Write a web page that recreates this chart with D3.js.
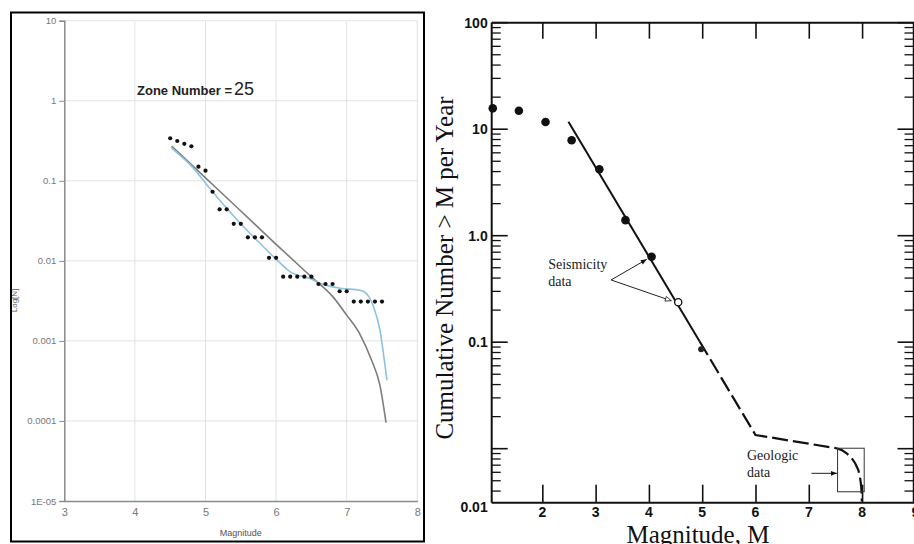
<!doctype html>
<html lang="en">
  <head>
    <meta charset="utf-8">
    <title>Magnitude recurrence</title>
    <style>
      body { margin: 0; background: #fff; }
      svg { display: block; }
    </style>
  </head>
  <body>
    <script src="https://d3js.org/d3.v7.min.js"></script>
    <script>
      // ---- left panel: zone 25 ----
      var zoneMags = [4.5, 4.6, 4.7, 4.8, 4.9, 5.0, 5.1, 5.2, 5.3, 5.4, 5.5, 5.6, 5.7, 5.8, 5.9, 6.0,
                      6.1, 6.2, 6.3, 6.4, 6.5, 6.6, 6.7, 6.8, 6.9, 7.0, 7.1, 7.2, 7.3, 7.4, 7.5];
      var zoneCounts = [0.34, 0.314, 0.29, 0.27, 0.15, 0.134, 0.073, 0.044, 0.044, 0.029, 0.029,
                        0.0197, 0.0197, 0.0197, 0.0109, 0.0109,
                        0.00634, 0.00634, 0.00634, 0.00634, 0.00634, 0.00514, 0.00514, 0.00514,
                        0.00417, 0.00417, 0.0031, 0.0031, 0.0031, 0.0031, 0.0031];

      // gray fitted curve
      var fitMags = [4.52, 5.0, 5.5, 6.0, 6.5, 6.8, 7.0, 7.19, 7.35, 7.47, 7.557];
      var fitVals = [0.272, 0.109, 0.042, 0.0161, 0.0063, 0.0036, 0.0021, 0.0012, 0.00058, 0.00028, 0.0000955];

      // blue smoothed curve
      var smoothMags = [4.51, 4.83, 5.06, 5.30, 5.56, 5.77, 6.01, 6.20, 6.48, 6.62, 6.91, 7.19, 7.28, 7.38, 7.47, 7.52, 7.57];
      var smoothVals = [0.259, 0.143, 0.0805, 0.0453, 0.0255, 0.0166, 0.0103, 0.0073, 0.0060, 0.00525, 0.00454,
                        0.0043, 0.0039, 0.00267, 0.00137, 0.0007, 0.000324];

      var leftXTicks = [3, 4, 5, 6, 7, 8];
      var leftYTicks = [10, 1, 0.1, 0.01, 0.001, 0.0001, 0.00001];
      var leftYLabels = ['10', '1', '0.1', '0.01', '0.001', '0.0001', '1E-05'];

      // ---- right panel: seismicity vs geologic ----
      var obsMags = [1.07, 1.56, 2.06, 2.55, 3.07, 3.56, 4.05];
      var obsRates = [15.7, 14.9, 11.7, 7.87, 4.2, 1.40, 0.635];
      var openMags = [4.55];
      var openRates = [0.237];
      var smallMags = [4.98];
      var smallRates = [0.0858];

      var solidMags = [2.49, 4.95];
      var solidRates = [11.75, 0.102];
      var dashMags = [4.95, 6.0, 7.52, 7.62, 7.71, 7.80, 7.87, 7.93, 7.96, 7.98, 7.99, 7.995];
      var dashRates = [0.102, 0.01345, 0.01009, 0.0097, 0.00906, 0.0082, 0.0073, 0.0063, 0.00546, 0.0046, 0.00394, 0.0032];

      var rightXTicks = [2, 3, 4, 5, 6, 7, 8];
      var rightXLabels = [2, 3, 4, 5, 6, 7, 8, 9];
      var rightYTicks = [100, 10, 1, 0.1];
      var rightYLabels = ['100', '10', '1.0', '0.1'];
      var rightBottomLabel = '0.01';

      var svg = d3.select('body').append('svg')
          .attr('width', 914)
          .attr('height', 544);

      // ================= LEFT =================
      var xL = d3.scaleLinear().domain([3, 8]).range([64.3, 417.3]);
      var yL = d3.scaleLog().domain([0.00001, 10]).range([501, 20.7]);

      svg.append('rect')
          .attr('x', 11).attr('y', 12.5)
          .attr('width', 413).attr('height', 529)
          .attr('fill', '#fff')
          .attr('stroke', '#000')
          .attr('stroke-width', 2);

      var left = svg.append('g');

      // grid
      left.selectAll('.vgrid')
          .data(leftXTicks.slice(1))
          .enter().append('line')
          .attr('x1', function(d) { return xL(d); })
          .attr('x2', function(d) { return xL(d); })
          .attr('y1', yL(10)).attr('y2', yL(0.00001))
          .attr('stroke', '#e2e2e2');
      left.selectAll('.hgrid')
          .data(leftYTicks.slice(0, -1))
          .enter().append('line')
          .attr('x1', xL(3)).attr('x2', xL(8))
          .attr('y1', function(d) { return yL(d); })
          .attr('y2', function(d) { return yL(d); })
          .attr('stroke', '#e2e2e2');

      var yAxisL = left.append('g')
          .attr('transform', 'translate(' + xL(3) + ',0)')
          .call(d3.axisLeft(yL).tickValues(leftYTicks)
            .tickFormat(function(d, i) { return leftYLabels[i]; })
            .tickSize(5).tickPadding(3));
      var xAxisL = left.append('g')
          .attr('transform', 'translate(0,' + yL(0.00001) + ')')
          .call(d3.axisBottom(xL).tickValues(leftXTicks).tickFormat(d3.format('d'))
            .tickSize(0).tickPadding(7));

      [yAxisL, xAxisL].forEach(function(ax) {
        ax.select('.domain').attr('stroke', '#8a8a8a').attr('stroke-width', 1.5);
        ax.selectAll('line').attr('stroke', '#8a8a8a');
        ax.selectAll('text').attr('fill', '#777').style('font-family', 'Liberation Sans, Arial, sans-serif');
      });
      yAxisL.selectAll('text').style('font-size', '9.5px');
      xAxisL.selectAll('text').style('font-size', '11px');

      var lineL = d3.line()
          .x(function(d) { return xL(d[0]); })
          .y(function(d) { return yL(d[1]); })
          .curve(d3.curveMonotoneX);

      left.append('path')
          .datum(fitMags.map(function(m, i) { return [m, fitVals[i]]; }))
          .attr('d', lineL)
          .attr('fill', 'none')
          .attr('stroke', '#7d7d7d')
          .attr('stroke-width', 1.6);

      left.append('path')
          .datum(smoothMags.map(function(m, i) { return [m, smoothVals[i]]; }))
          .attr('d', lineL)
          .attr('fill', 'none')
          .attr('stroke', '#8ec3e0')
          .attr('stroke-width', 1.6);

      left.selectAll('.zdot')
          .data(zoneMags)
          .enter().append('circle')
          .attr('r', 2.1)
          .attr('cx', function(d) { return xL(d); })
          .attr('cy', function(d, i) { return yL(zoneCounts[i]); })
          .attr('fill', '#111');

      var zt = left.append('text')
          .attr('x', xL(4.03))
          .attr('y', yL(1.18))
          .style('font-family', 'Liberation Sans, Arial, sans-serif')
          .attr('fill', '#222');
      zt.append('tspan').style('font-size', '13px').style('font-weight', 'bold').text('Zone Number =');
      zt.append('tspan').attr('dx', 2).style('font-size', '18px').text('25');

      left.append('text')
          .attr('transform', 'translate(17,' + yL(0.0032) + ') rotate(-90)')
          .attr('text-anchor', 'middle')
          .style('font-family', 'Liberation Sans, Arial, sans-serif')
          .style('font-size', '8px')
          .attr('fill', '#555')
          .text('Log[N]');

      left.append('text')
          .attr('x', xL(5.5))
          .attr('y', 536)
          .attr('text-anchor', 'middle')
          .style('font-family', 'Liberation Sans, Arial, sans-serif')
          .style('font-size', '9px')
          .attr('fill', '#555')
          .text('Magnitude');

      // ================= RIGHT =================
      var xR = d3.scaleLinear().domain([1.05, 8.95]).range([491.7, 912.7]);
      var yR = d3.scaleLog().domain([0.00311, 100]).range([502.7, 22.7]);

      var right = svg.append('g');
      var boldSans = 'Liberation Sans, Arial, Helvetica, sans-serif';
      var serif = 'Liberation Serif, Times New Roman, serif';

      var minorTicks = [];
      [0.001, 0.01, 0.1, 1, 10].forEach(function(dec) {
        for (var k = 2; k <= 9; k++) {
          var v = dec * k;
          if (v > yR.domain()[0] && v < 100) minorTicks.push(v);
        }
      });
      var majorTicks = [100, 10, 1, 0.1, 0.01];

      // axes frame lines
      right.append('line').attr('x1', xR.range()[0]).attr('x2', 914)
          .attr('y1', yR(100)).attr('y2', yR(100)).attr('stroke', '#111').attr('stroke-width', 2);
      right.append('line').attr('x1', xR.range()[0]).attr('x2', 914)
          .attr('y1', yR.range()[0]).attr('y2', yR.range()[0]).attr('stroke', '#111').attr('stroke-width', 2);
      right.append('line').attr('x1', xR.range()[0]).attr('x2', xR.range()[0])
          .attr('y1', yR(100)).attr('y2', yR.range()[0]).attr('stroke', '#111').attr('stroke-width', 2);
      right.append('line').attr('x1', 913.5).attr('x2', 913.5)
          .attr('y1', yR(100)).attr('y2', yR.range()[0]).attr('stroke', '#111').attr('stroke-width', 1.5);

      // left/right ticks
      [[xR.range()[0], 1], [913.5, -1]].forEach(function(side) {
        right.selectAll(null)
            .data(majorTicks)
            .enter().append('line')
            .attr('x1', side[0]).attr('x2', side[0] + side[1] * 16)
            .attr('y1', function(d) { return yR(d); })
            .attr('y2', function(d) { return yR(d); })
            .attr('stroke', '#111').attr('stroke-width', 1.6);
        right.selectAll(null)
            .data(minorTicks)
            .enter().append('line')
            .attr('x1', side[0]).attr('x2', side[0] + side[1] * 9)
            .attr('y1', function(d) { return yR(d); })
            .attr('y2', function(d) { return yR(d); })
            .attr('stroke', '#111').attr('stroke-width', 1.3);
      });

      // top and bottom magnitude ticks
      var topAx = right.append('g')
          .attr('transform', 'translate(0,' + yR(100) + ')')
          .call(d3.axisTop(xR).tickValues(rightXTicks).tickSizeInner(-16).tickSizeOuter(0).tickFormat(''));
      var botAx = right.append('g')
          .attr('transform', 'translate(0,' + yR.range()[0] + ')')
          .call(d3.axisBottom(xR).tickValues(rightXTicks).tickSizeInner(-18).tickSizeOuter(0).tickFormat(''));
      [topAx, botAx].forEach(function(ax) {
        ax.select('.domain').remove();
        ax.selectAll('line').attr('stroke', '#111').attr('stroke-width', 1.6);
      });

      right.selectAll('.xlab')
          .data(rightXLabels)
          .enter().append('text')
          .attr('x', function(d) { return xR(d); })
          .attr('y', yR.range()[0] + 14.5)
          .attr('text-anchor', 'middle')
          .style('font-family', boldSans)
          .style('font-weight', 'bold')
          .style('font-size', '14px')
          .attr('fill', '#111')
          .text(function(d) { return d; });

      right.selectAll('.ylab')
          .data(rightYTicks)
          .enter().append('text')
          .attr('x', xR.range()[0] - 4)
          .attr('y', function(d) { return yR(d); })
          .attr('dy', '0.35em')
          .attr('text-anchor', 'end')
          .style('font-family', boldSans)
          .style('font-weight', 'bold')
          .style('font-size', '14px')
          .attr('fill', '#111')
          .text(function(d, i) { return rightYLabels[i]; });

      right.append('text')
          .attr('x', xR.range()[0] - 4)
          .attr('y', yR.range()[0] + 4)
          .attr('dy', '0.35em')
          .attr('text-anchor', 'end')
          .style('font-family', boldSans)
          .style('font-weight', 'bold')
          .style('font-size', '14px')
          .attr('fill', '#111')
          .text(rightBottomLabel);

      right.append('text')
          .attr('x', xR(4.92))
          .attr('y', 543)
          .attr('text-anchor', 'middle')
          .style('font-family', serif)
          .style('font-size', '25px')
          .attr('fill', '#111')
          .text('Magnitude, M');

      right.append('text')
          .attr('transform', 'translate(453,268) rotate(-90)')
          .attr('text-anchor', 'middle')
          .style('font-family', serif)
          .style('font-size', '25px')
          .attr('fill', '#111')
          .text('Cumulative Number > M per Year');

      // fitted lines
      var lineR = d3.line()
          .x(function(d) { return xR(d[0]); })
          .y(function(d) { return yR(d[1]); });

      right.append('path')
          .datum(solidMags.map(function(m, i) { return [m, solidRates[i]]; }))
          .attr('d', lineR)
          .attr('fill', 'none')
          .attr('stroke', '#111')
          .attr('stroke-width', 2);

      right.append('path')
          .datum(dashMags.map(function(m, i) { return [m, dashRates[i]]; }))
          .attr('d', lineR)
          .attr('fill', 'none')
          .attr('stroke', '#111')
          .attr('stroke-width', 2.2)
          .attr('stroke-dasharray', '16,5');

      right.selectAll('.obs')
          .data(obsMags)
          .enter().append('circle')
          .attr('r', 4.3)
          .attr('cx', function(d) { return xR(d); })
          .attr('cy', function(d, i) { return yR(obsRates[i]); })
          .attr('fill', '#111');

      right.selectAll('.open')
          .data(openMags)
          .enter().append('circle')
          .attr('r', 3.6)
          .attr('cx', function(d) { return xR(d); })
          .attr('cy', function(d, i) { return yR(openRates[i]); })
          .attr('fill', '#fff')
          .attr('stroke', '#111')
          .attr('stroke-width', 1.3);

      right.selectAll('.small')
          .data(smallMags)
          .enter().append('circle')
          .attr('r', 3)
          .attr('cx', function(d) { return xR(d); })
          .attr('cy', function(d, i) { return yR(smallRates[i]); })
          .attr('fill', '#222');

      // annotations
      var defs = svg.append('defs');
      defs.append('marker')
          .attr('id', 'head')
          .attr('viewBox', '0 0 10 10')
          .attr('refX', 10).attr('refY', 5)
          .attr('markerWidth', 7).attr('markerHeight', 6)
          .attr('markerUnits', 'userSpaceOnUse')
          .attr('orient', 'auto')
        .append('path')
          .attr('d', 'M0,1 L10,5 L0,9 Z')
          .attr('fill', '#111');
      defs.append('marker')
          .attr('id', 'openhead')
          .attr('viewBox', '0 0 10 10')
          .attr('refX', 10).attr('refY', 5)
          .attr('markerWidth', 8).attr('markerHeight', 6)
          .attr('markerUnits', 'userSpaceOnUse')
          .attr('orient', 'auto')
        .append('path')
          .attr('d', 'M0,1 L10,5 L0,9 Z')
          .attr('fill', '#fff')
          .attr('stroke', '#111')
          .attr('stroke-width', 1.2);

      function annoText(m, r, lines) {
        var t = right.append('text')
            .attr('x', xR(m))
            .attr('y', yR(r))
            .style('font-family', serif)
            .style('font-size', '14px')
            .attr('fill', '#222');
        lines.forEach(function(s, i) {
          t.append('tspan').attr('x', xR(m)).attr('dy', i ? 17 : 0).text(s);
        });
      }
      annoText(2.11, 0.484, ['Seismicity', 'data']);
      annoText(5.84, 0.00783, ['Geologic', 'data']);

      function arrow(m0, r0, m1, r1, marker) {
        right.append('line')
            .attr('x1', xR(m0)).attr('y1', yR(r0))
            .attr('x2', xR(m1)).attr('y2', yR(r1))
            .attr('stroke', '#222')
            .attr('stroke-width', 1)
            .attr('marker-end', 'url(#' + marker + ')');
      }
      arrow(3.29, 0.384, 3.96, 0.6, 'head');
      arrow(3.29, 0.384, 4.42, 0.245, 'openhead');
      arrow(7.05, 0.00587, 7.53, 0.00587, 'head');

      right.append('rect')
          .attr('x', xR(7.54))
          .attr('y', yR(0.0101))
          .attr('width', xR(8.04) - xR(7.54))
          .attr('height', yR(0.00394) - yR(0.0101))
          .attr('fill', 'none')
          .attr('stroke', '#333')
          .attr('stroke-width', 1);
    </script>
  </body>
</html>
